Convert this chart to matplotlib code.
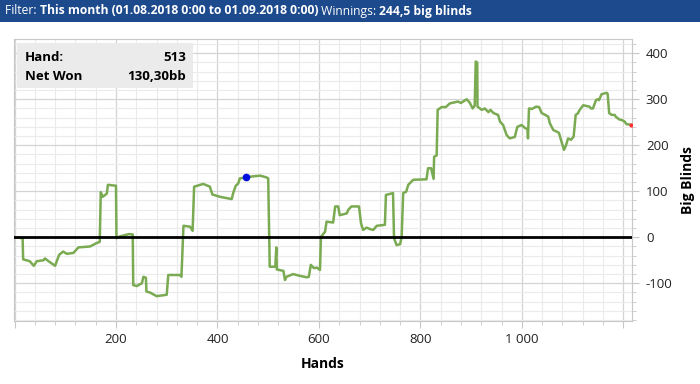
import matplotlib
matplotlib.use("Agg")
import matplotlib.pyplot as plt
from matplotlib.ticker import MultipleLocator, FuncFormatter
from matplotlib.patches import Rectangle

plt.rcParams["font.family"] = ["Open Sans", "DejaVu Sans"]
plt.rcParams["axes.unicode_minus"] = False

# cumulative winnings (big blinds) by hand
hands = [0, 16, 17, 30, 38, 44, 57, 60, 67, 80, 88, 96, 103, 116, 126, 149, 161, 168,
         170, 174, 182, 184, 200, 201, 208, 226, 233, 234, 241, 251, 254, 259, 260, 267,
         280, 300, 303, 326, 329, 333, 346, 351, 354, 372, 385, 390, 405, 428, 431, 436,
         441, 444, 456, 467, 484, 497, 500, 501, 503, 514, 516, 517, 530, 533, 536, 549,
         563, 576, 580, 584, 590, 596, 602, 604, 612, 615, 628, 632, 638, 641, 655, 658,
         664, 679, 683, 687, 694, 700, 707, 714, 730, 732, 746, 748, 753, 760, 763, 766,
         772, 776, 786, 812, 815, 821, 826, 827, 832, 834, 842, 850, 858, 874, 880, 891,
         897, 903, 907, 909, 912, 912.5, 921, 927, 934, 938, 944, 953, 957, 963, 970, 976,
         986, 991, 999, 1007, 1011, 1012, 1014, 1020, 1028, 1034, 1039, 1046, 1052, 1055,
         1062, 1068, 1073, 1078, 1083, 1087, 1091, 1097, 1102, 1106, 1110, 1114, 1121, 1133,
         1136, 1140, 1146, 1149, 1152, 1157, 1167, 1169, 1172, 1177, 1183, 1185, 1192, 1197,
         1203, 1206, 1216]
net_won = [0, -2, -48, -52, -62, -52, -50, -46, -52, -62, -38, -31, -36, -34, -22, -20, -13, -10,
           98, 88, 95, 114, 112, -2, 2, 7, 6, -104, -106, -100, -86, -88, -118, -120,
           -128, -125, -82, -82, -86, 25, 23, 14, 110, 116, 110, 93, 88, 83, 96, 112,
           117, 128, 130, 132, 134, 130, 128, 59, -64, -64, -22, -70, -73, -93, -86, -80,
           -84, -87, -86, -60, -67, -66, -71, 1, 12, 34, 32, 67, 67, 48, 52, 60,
           67, 67, 30, 16, 21, 18, 16, 25, 27, 92, 96, -2, -17, -15, 1, 96,
           99, 114, 125, 126, 150, 150, 127, 175, 178, 277, 283, 283, 291, 295, 292, 300,
           293, 280, 286, 382, 380, 284, 277, 280, 272, 277, 270, 266, 251, 244, 222, 215,
           218, 240, 244, 237, 235, 215, 280, 279, 284, 283, 270, 266, 262, 248,
           233, 230, 227, 208, 190, 200, 215, 212, 219, 266, 269, 277, 287, 284,
           280, 280, 298, 300, 298, 311, 314, 312, 270, 266, 266, 262, 256, 255,
           251, 246, 244.5]

hover_hand = 456
hover_value = 130.30
hover_label = "513"
header_parts = [("Filter: ", "normal"),
                ("This month (01.08.2018 0:00 to 01.09.2018 0:00)", "bold"),
                (" Winnings: ", "normal"),
                ("244,5 big blinds", "bold")]

fig = plt.figure(figsize=(7, 3.84), dpi=100)
ax = fig.add_axes([14 / 700, 1 - 321 / 384, 618 / 700, 282 / 384])

ax.plot(hands, net_won, color="#7aaa52", lw=1.8, zorder=3)
ax.axhline(0, color="black", lw=2, zorder=4)
ax.plot([hover_hand], [hover_value], "o", color="#0010e0", ms=4.5, zorder=5)
ax.plot([hands[-1]], [net_won[-1]], "o", color="#ff3030", ms=2, zorder=5)

ax.set_xlim(-1, 1217)
ax.set_ylim(-182, 431)

ax.xaxis.set_major_locator(MultipleLocator(200))
ax.xaxis.set_minor_locator(MultipleLocator(40))
ax.yaxis.set_major_locator(MultipleLocator(100))
ax.yaxis.set_minor_locator(MultipleLocator(20))
ax.xaxis.set_major_formatter(FuncFormatter(
    lambda v, p: "" if v <= 0 or v >= 1200 else f"{int(v):,}".replace(",", " ")))
ax.grid(which="major", color="#d4d4d4", lw=0.9)
ax.grid(which="minor", color="#ebebeb", lw=0.8)
ax.set_axisbelow(True)

ax.yaxis.tick_right()
ax.yaxis.set_label_position("right")
ax.tick_params(which="both", colors="#c8c8c8", labelcolor="#222222", labelsize=9.5)
ax.tick_params(which="major", length=5)
ax.tick_params(which="minor", length=3)
ax.tick_params(axis="y", pad=5)
for s in ax.spines.values():
    s.set_color("#c8c8c8")

ax.set_xlabel("Hands", fontweight="bold", fontsize=10, labelpad=8)
ax.set_ylabel("Big Blinds", fontweight="bold", fontsize=10, labelpad=6)

# hover info box
ax.add_patch(Rectangle((0.005, 0.826), 0.285, 0.16, transform=ax.transAxes,
                       facecolor="#ebebeb", edgecolor="none", zorder=6))
ax.text(0.017, 0.935, "Hand:", transform=ax.transAxes, fontweight="bold", fontsize=9.5,
        va="center", zorder=7)
ax.text(0.278, 0.935, hover_label, transform=ax.transAxes, fontweight="bold", fontsize=9.5,
        va="center", ha="right", zorder=7)
ax.text(0.017, 0.868, "Net Won", transform=ax.transAxes, fontweight="bold", fontsize=9.5,
        va="center", zorder=7)
ax.text(0.278, 0.868, f"{hover_value:.2f}bb".replace(".", ","), transform=ax.transAxes,
        fontweight="bold", fontsize=9.5, va="center", ha="right", zorder=7)

# header bar
fig.patches.append(Rectangle((0, 1 - 22 / 384), 1, 22 / 384, transform=fig.transFigure,
                             facecolor="#1c4a8c", edgecolor="none"))
renderer = fig.canvas.get_renderer()
x = 5 / 700
for txt, w in header_parts:
    t = fig.text(x, 1 - 11 / 384, txt, color="white", fontweight=w, fontsize=8.7, va="center")
    bb = t.get_window_extent(renderer)
    x += bb.width / 700

fig.savefig("out.png", dpi=100)
